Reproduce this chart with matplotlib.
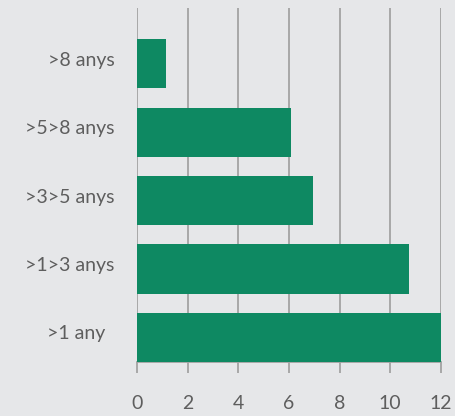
import matplotlib.pyplot as plt
import matplotlib.transforms as mtransforms
import numpy as np

categories = [">1 any  ", ">1>3 anys", ">3>5 anys", ">5>8 anys", ">8 anys"]
values = [12.0, 10.75, 6.95, 6.08, 1.15]
xticks = [0, 2, 4, 6, 8, 10, 12]

bg = "#e6e7e9"
green = "#0e8962"
grid_col = "#a3a3a3"
text_col = "#5e5e5e"

plt.rcParams['font.family'] = ['Lato', 'DejaVu Sans']

fig = plt.figure(figsize=(4.56, 4.16), dpi=100, facecolor=bg)
ax = fig.add_axes([0.3004, 0.1298, 0.6663, 0.851])
ax.set_facecolor(bg)

y = np.arange(len(categories))
ax.barh(y, values, height=0.72, color=green, zorder=3)

ax.set_xlim(0, 12)
ax.set_ylim(-0.36, 4.816)
ax.set_xticks(xticks)
ax.set_xticklabels([str(t) for t in xticks])
ax.set_yticks(y)
ax.set_yticklabels(categories)

ax.grid(axis="x", color=grid_col, linewidth=1.3, zorder=0)
ax.grid(axis="y", visible=False)
for side in ["top", "right", "left"]:
    ax.spines[side].set_visible(False)
ax.spines["bottom"].set_color(grid_col)
ax.spines["bottom"].set_linewidth(1.3)

ax.tick_params(axis="x", length=8, width=1.3, color=grid_col, labelsize=14,
               labelcolor=text_col, pad=16)
ax.tick_params(axis="y", length=0, labelsize=14, labelcolor=text_col, pad=16)

# labels sit a little above the bar centres in the original
shift = mtransforms.ScaledTranslation(0, 5 / 100, fig.dpi_scale_trans)
for lbl in ax.get_yticklabels():
    lbl.set_transform(lbl.get_transform() + shift)

fig.savefig("out.png", dpi=100, facecolor=bg)
